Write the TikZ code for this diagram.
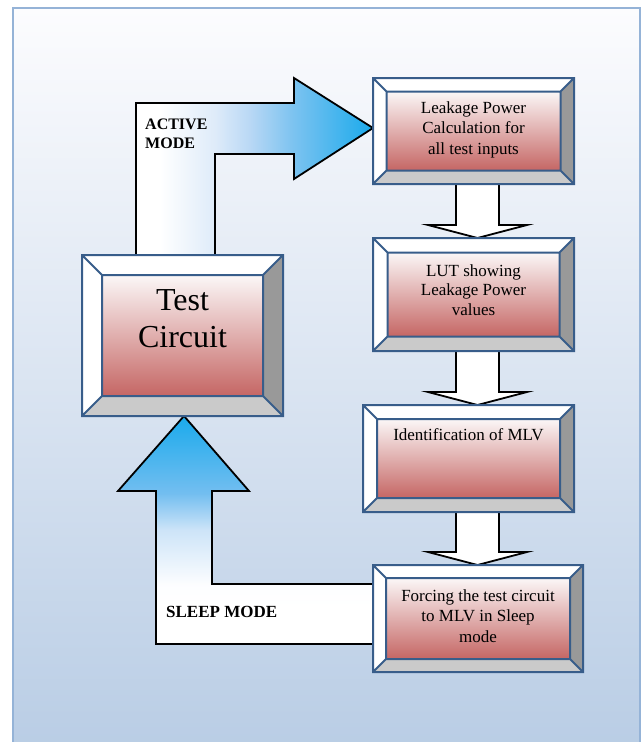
\documentclass[tikz,border=0pt]{standalone}
\usepackage{fontspec}
\setmainfont{Liberation Serif}
\usetikzlibrary{calc}
\definecolor{boxblue}{RGB}{56,93,138}
\definecolor{framebl}{RGB}{149,179,215}
\definecolor{bgbot}{RGB}{185,205,229}
\definecolor{bgtop}{RGB}{252,252,254}
\definecolor{redtop}{RGB}{251,247,247}
\definecolor{redbot}{RGB}{197,102,100}
\definecolor{faceR}{RGB}{153,153,153}
\definecolor{faceB}{RGB}{202,202,202}
\definecolor{acA}{RGB}{222,235,249}
\definecolor{acB}{RGB}{185,216,245}
\definecolor{acC}{RGB}{125,195,240}
\definecolor{acD}{RGB}{26,170,236}
\definecolor{scA}{RGB}{205,228,248}
\definecolor{scB}{RGB}{115,190,240}
\pgfdeclarehorizontalshading{activeshade}{100bp}{color(0bp)=(white); color(30bp)=(white); color(41.7bp)=(acA); color(49bp)=(acB); color(58bp)=(acC); color(75bp)=(acD); color(100bp)=(acD)}
\pgfdeclareverticalshading{sleepshade}{100bp}{color(0bp)=(white); color(33bp)=(white); color(38bp)=(white!92!acA); color(50bp)=(scA); color(58bp)=(scB); color(75bp)=(acD); color(100bp)=(acD)}
\pgfdeclarelayer{back}
\pgfdeclarelayer{arr}
\pgfsetlayers{back,arr,main}
\tikzset{
  boxnode/.style={rectangle, inner sep=0pt, outer sep=0pt},
  boxline/.style={draw=boxblue, line width=2pt, line join=miter},
  blockarrow/.style={draw=black, line width=1.8pt, line join=miter},
  boxtext/.style={align=center, anchor=base, font=\fontsize{17}{20.5}\selectfont, inner sep=0pt},
  modetext/.style={align=left, anchor=base west, inner sep=0pt, font=\bfseries\fontsize{16}{18.5}\selectfont},
}
\newcommand\mkbox[5]{\node[boxnode, minimum width=#4pt, minimum height=#5pt] (#1) at (#2,#3) {};}
\newcommand\drawbevel[2]{%
  \coordinate (#1-i1) at ($(#1.north west)+(#2,#2)$);
  \coordinate (#1-i2) at ($(#1.north east)+(-#2,#2)$);
  \coordinate (#1-i3) at ($(#1.south east)+(-#2,-#2)$);
  \coordinate (#1-i4) at ($(#1.south west)+(#2,-#2)$);
  \fill[white] (#1.north west) -- (#1.north east) -- (#1-i2) -- (#1-i1) -- cycle;
  \fill[white] (#1.north west) -- (#1-i1) -- (#1-i4) -- (#1.south west) -- cycle;
  \fill[faceR] (#1.north east) -- (#1.south east) -- (#1-i3) -- (#1-i2) -- cycle;
  \fill[faceB] (#1.south west) -- (#1.south east) -- (#1-i3) -- (#1-i4) -- cycle;
  \shade[top color=redtop, bottom color=redbot] (#1-i1) rectangle (#1-i3);
  \draw[boxline] (#1.north west) rectangle (#1.south east) (#1-i1) rectangle (#1-i3)
    (#1.north west) -- (#1-i1) (#1.north east) -- (#1-i2)
    (#1.south east) -- (#1-i3) (#1.south west) -- (#1-i4);
}
\newcommand\downarrowblk[2]{%
  \draw[blockarrow, fill=white]
    ($(#1.south -| ax)+(-21.5,-1)$) -- ($(#2.north -| ax)+(-21.5,-13)$)
    -- ($(#2.north -| ax)+(-49.5,-13)$) -- (#2.north -| ax)
    -- ($(#2.north -| ax)+(49.5,-13)$) -- ($(#2.north -| ax)+(21.5,-13)$)
    -- ($(#1.south -| ax)+(21.5,-1)$) -- cycle;
}
\begin{document}
\begin{tikzpicture}[x=1pt, y=-1pt]
\useasboundingbox (0,0) rectangle (643,742);
\clip (0,0) rectangle (643,742);
\begin{pgfonlayer}{back}
  \fill[white] (0,0) rectangle (643,742);
  \shade[top color=bgtop, bottom color=bgbot] (13,8) rectangle (640,750);
  \draw[framebl, line width=2.5pt] (13,8) rectangle (640,750);
\end{pgfonlayer}
\coordinate (ax) at (477.5,0);
% boxes
\mkbox{tc}{182.5}{335.5}{201}{161}
\mkbox{b1}{473.5}{131}{201}{106}
\mkbox{b2}{473.5}{294.5}{201}{113}
\mkbox{b3}{468.5}{458.5}{211}{107}
\mkbox{b4}{478}{618.5}{210}{107}
\drawbevel{tc}{20}
\drawbevel{b1}{13.5}
\drawbevel{b2}{14.5}
\drawbevel{b3}{14}
\drawbevel{b4}{13}
% arrows
\begin{pgfonlayer}{arr}
  \coordinate (at) at ($(b1.west)+(0,-3)$);
  \shade[shading=activeshade] ($(tc.north)+(-46.5,0)$) |- ($(at)+(-79,-25)$)
    -- ($(at)+(-79,-50)$) -- (at) -- ($(at)+(-79,51)$) -- ($(at)+(-79,26)$)
    -| ($(tc.north)+(32.5,0)$) -- cycle;
  \draw[blockarrow] ($(tc.north)+(-46.5,0)$) |- ($(at)+(-79,-25)$)
    -- ($(at)+(-79,-50)$) -- (at) -- ($(at)+(-79,51)$) -- ($(at)+(-79,26)$)
    -| ($(tc.north)+(32.5,0)$) -- cycle;
  \coordinate (st) at ($(tc.south)+(1.5,0)$);
  \shade[shading=sleepshade] ($(b4.west)+(0,-34.5)$) -| ($(st)+(28,75)$)
    -- ($(st)+(65,75)$) -- (st) -- ($(st)+(-66,75)$) -- ($(st)+(-28,75)$)
    |- ($(b4.west)+(0,25.5)$) -- cycle;
  \draw[blockarrow] ($(b4.west)+(0,-34.5)$) -| ($(st)+(28,75)$)
    -- ($(st)+(65,75)$) -- (st) -- ($(st)+(-66,75)$) -- ($(st)+(-28,75)$)
    |- ($(b4.west)+(0,25.5)$) -- cycle;
  \downarrowblk{b1}{b2}
  \downarrowblk{b2}{b3}
  \downarrowblk{b3}{b4}
\end{pgfonlayer}
% texts (multi-line nodes: base anchor = last line's baseline)
\node[boxtext, font=\fontsize{32}{37}\selectfont] (ttc) at ($(tc.north)+(0,92)$) {Test\\Circuit};
\node[boxtext] (t1) at ($(b1.north)+(0,76)$) {Leakage Power\\Calculation for\\all test inputs};
\node[boxtext, font=\fontsize{17}{19.5}\selectfont] (t2) at ($(b2.north)+(0,77)$) {LUT showing\\Leakage Power\\values};
\node[boxtext] (t3) at ($(b3.north)+(0,35)$) {Identification of MLV};
\node[boxtext] (t4) at ($(b4.north)+(0,77)$) {Forcing the test circuit\\to MLV in Sleep\\mode};
\node[modetext] (tact) at (145,148) {ACTIVE\\MODE};
\node[modetext, font=\bfseries\fontsize{17}{20}\selectfont] (tslp) at (166,617) {SLEEP MODE};
\end{tikzpicture}
\end{document}
